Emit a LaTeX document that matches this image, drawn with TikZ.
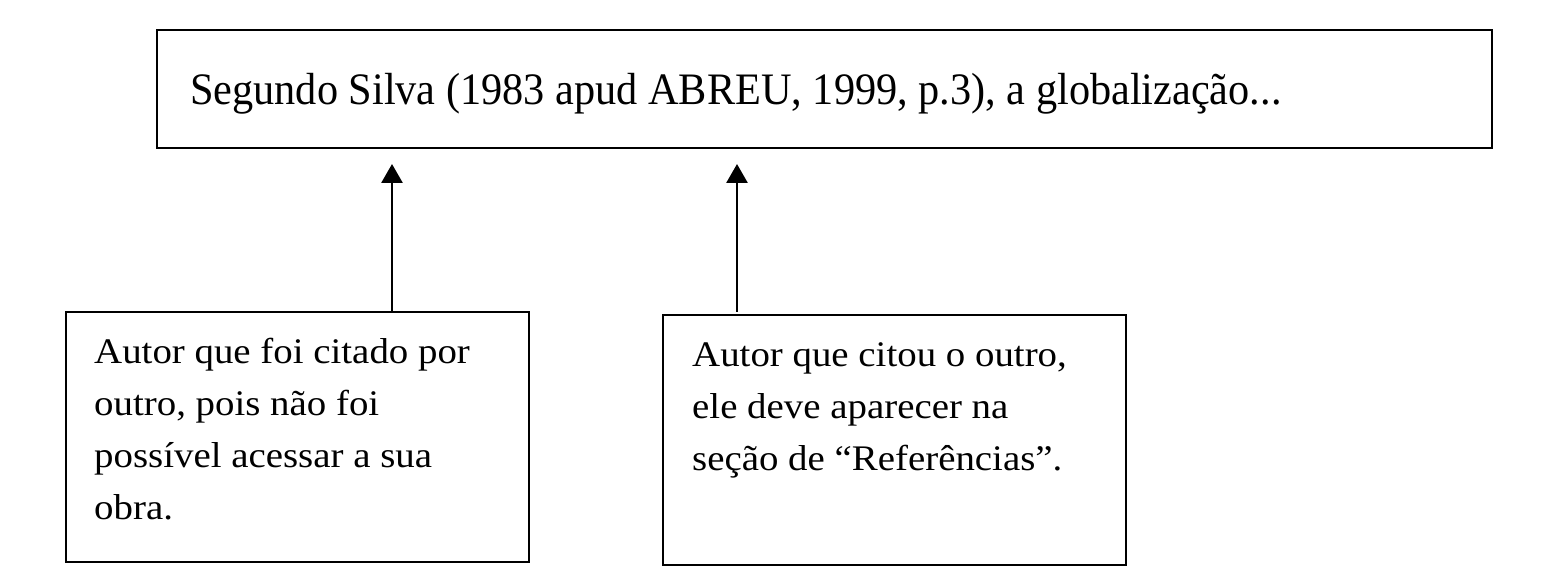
\documentclass[tikz,border=0pt]{standalone}
\usepackage{fontspec}
\setmainfont{Liberation Serif}
\newfontfamily\topfont[FakeStretch=0.94]{Liberation Serif}
\newfontfamily\boxfont[FakeStretch=1.08]{Liberation Serif}
\usetikzlibrary{arrows.meta}
\begin{document}
\begin{tikzpicture}[x=1pt,y=-1pt,
  boxnode/.style={draw=black,line width=2.8pt,rectangle,inner sep=0pt},
  bigtext/.style={inner sep=0pt,anchor=base west,font=\topfont\fontsize{45}{54}\selectfont},
  smalltext/.style={inner sep=0pt,anchor=base west,align=left,font=\boxfont\fontsize{36}{52}\selectfont},
  arrowline/.style={line width=2.8pt,-{Triangle[length=19pt,width=21pt]}}]
\useasboundingbox (0,0) rectangle (1552,588);
\node[boxnode,minimum width=1335pt,minimum height=118pt] (top) at (824.5,89) {};
\node[bigtext] (toptext) at (190,105) {Segundo Silva (1983 apud ABREU, 1999, p.3), a globalização...};
\node[boxnode,minimum width=463pt,minimum height=250pt] (lbox) at (297.5,437) {};
\node[smalltext] (ltext) at (94,519) {Autor que foi citado por\\outro, pois não foi\\possível acessar a sua\\obra.};
\node[boxnode,minimum width=463pt,minimum height=250pt] (rbox) at (894.5,440) {};
\node[smalltext] (rtext) at (692,470) {Autor que citou o outro,\\ele deve aparecer na\\seção de “Referências”.};
\coordinate (ltip) at (392,164);
\coordinate (rtip) at (737,164);
\draw[arrowline] (ltip |- lbox.north) -- (ltip);
\draw[arrowline] ([yshift=2pt]rtip |- rbox.north) -- (rtip);
\end{tikzpicture}
\end{document}
